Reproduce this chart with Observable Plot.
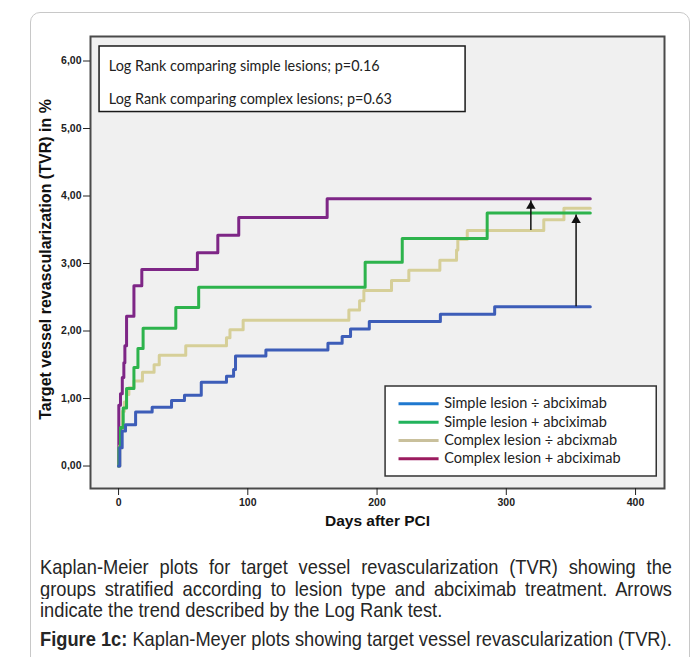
<!DOCTYPE html>
<html><head><meta charset="utf-8">
<script src="https://cdn.jsdelivr.net/npm/d3@7"></script>
<script src="https://cdn.jsdelivr.net/npm/@observablehq/plot@0.6"></script>
<style>
html,body{margin:0;padding:0;background:#fff;width:697px;height:657px;overflow:hidden;position:relative}
#border{position:absolute;left:30px;top:12px;width:660px;height:720px;border:1px solid #c8c8c8;border-radius:10px;box-sizing:border-box}
#chart{position:absolute;left:0;top:0}
#chart svg g[aria-label="x-axis tick label"] text, #chart svg g[aria-label="y-axis tick label"] text{font-weight:bold}
#caption{position:absolute;left:40px;top:556px;font-family:"Liberation Sans",Arial,sans-serif;color:#262626;transform-origin:0 0}
.ln{height:21.7px;line-height:21.7px;white-space:nowrap}
.j{text-align:justify;text-align-last:justify;white-space:normal;overflow:hidden}
#fig{margin-top:7px}
</style></head><body>
<div id="border"></div>
<div id="chart"></div>
<div id="caption">
  <div class="ln j" id="l1">Kaplan-Meier plots for target vessel revascularization (TVR) showing the</div>
  <div class="ln j" id="l2">groups stratified according to lesion type and abciximab treatment. Arrows</div>
  <div class="ln" id="l3">indicate the trend described by the Log Rank test.</div>
  <div class="ln" id="fig"><b id="figb">Figure 1c:</b><span id="figt"> Kaplan-Meyer plots showing target vessel revascularization (TVR).</span></div>
</div>
<script>
// ---- data ----
const groups = ["Simple lesion ÷ abciximab", "Simple lesion + abciximab", "Complex lesion ÷ abcixmab", "Complex lesion + abciximab"];
const lineColors = ["#3d5db8", "#2db34c", "#d6cf98", "#7e2686"];
const legendColors = ["#1f78cf", "#22b35c", "#c9c09c", "#9b1b5f"];

const simpleNoDays = [0, 1, 2.8, 5.4, 13.2, 26, 41, 51, 64, 83.5, 89, 90.5, 114, 162, 173, 179.5, 194, 249, 291, 365];
const simpleNoTVR  = [0, 0.27, 0.52, 0.61, 0.8, 0.87, 0.97, 1.05, 1.24, 1.33, 1.43, 1.63, 1.72, 1.82, 1.92, 2.03, 2.14, 2.25, 2.36, 2.36];

const simpleAbxDays = [0, 0.3, 1.5, 3.6, 6.2, 11.9, 15, 19, 44.3, 62, 190.8, 219.5, 285.2, 365];
const simpleAbxTVR  = [0, 0.27, 0.57, 0.86, 1.15, 1.46, 1.74, 2.04, 2.35, 2.65, 3.02, 3.37, 3.75, 3.75];

const complexNoDays = [0, 1, 2, 3, 4.5, 6.2, 8, 11.9, 18.5, 27.5, 31.5, 52, 83.5, 86.2, 96.4, 178.2, 186.5, 189.8, 211.2, 224.6, 248.6, 261.5, 262.5, 269.8, 329, 344.6, 365];
const complexNoTVR  = [0, 0.3, 0.52, 0.81, 0.95, 1.06, 1.16, 1.26, 1.39, 1.5, 1.64, 1.78, 1.9, 2.02, 2.16, 2.31, 2.45, 2.6, 2.75, 2.9, 3.05, 3.2, 3.36, 3.49, 3.65, 3.82, 3.82];

const complexAbxDays = [0, 0.2, 1.5, 2.9, 4.1, 4.9, 6.2, 11.9, 18, 61, 76.8, 93, 161.4, 365];
const complexAbxTVR  = [0, 0.9, 1.07, 1.31, 1.53, 1.78, 2.22, 2.67, 2.91, 3.16, 3.42, 3.68, 3.96, 3.96];

const arrowDays = [319, 354];
const arrowFrom = [3.49, 2.36];
const arrowTo   = [3.93, 3.72];

const xTicks = [0, 100, 200, 300, 400];
const yTicks = [0, 1, 2, 3, 4, 5, 6];
const boxLines = ["Log Rank comparing simple lesions; p=0.16", "Log Rank comparing complex lesions; p=0.63"];

// ---- build ----
const seriesDays = [simpleNoDays, simpleAbxDays, complexNoDays, complexAbxDays];
const seriesTVR = [simpleNoTVR, simpleAbxTVR, complexNoTVR, complexAbxTVR];
const series = groups.map((g, i) => seriesDays[i].map((d, j) => ({group: g, day: d, tvr: seriesTVR[i][j]})));
const arrows = arrowDays.map((d, i) => ({day: d, from: arrowFrom[i], to: arrowTo[i]}));

// annotation placement (data units)
const box = {x1: -14.7, x2: 268.5, y1: 5.244, y2: 6.215, tx: -7.5, ty: [5.92, 5.43]};
const leg = {x1: 206.6, x2: 416.4, y1: -0.155, y2: 1.178, sx1: 217, sx2: 248, tx: 251.9, ty: [0.921, 0.649, 0.378, 0.107]};

const font = "Lato, 'Open Sans', sans-serif";
const sansB = "'Liberation Sans', Arial, sans-serif";
const drawOrder = [3, 2, 1, 0];

const marks = [
  Plot.frame({fill: "#f0f0f0"}),
  ...drawOrder.map(i => Plot.line(series[i], {x: "day", y: "tvr", curve: "step-after", stroke: lineColors[i], strokeWidth: 3})),
  Plot.ruleX(arrows, {x: "day", y1: "from", y2: "to", stroke: "#111", strokeWidth: 1.5}),
  Plot.dot(arrows, {x: "day", y: "to", symbol: "triangle", r: 3.5, fill: "#111", stroke: null, dy: 5.4}),
  Plot.frame({stroke: "#4a4a4a", strokeWidth: 2}),
  Plot.rect([0], {x1: box.x1, x2: box.x2, y1: box.y1, y2: box.y2, fill: "white", stroke: "#1a1a1a", strokeWidth: 1.5}),
  Plot.text(boxLines, {x: box.tx, y: (d, i) => box.ty[i], text: d => d, textAnchor: "start", fontFamily: font, fontSize: 14.4, fill: "#222"}),
  Plot.rect([0], {x1: leg.x1, x2: leg.x2, y1: leg.y1, y2: leg.y2, fill: "white", stroke: "#333", strokeWidth: 1.5}),
  ...groups.map((g, i) => Plot.ruleY([leg.ty[i]], {x1: leg.sx1, x2: leg.sx2, stroke: legendColors[i], strokeWidth: 3})),
  Plot.text(groups, {x: leg.tx, y: (d, i) => leg.ty[i], text: d => d, textAnchor: "start", fontFamily: font, fontSize: 14.5, fill: "#222"}),
  Plot.axisX({ticks: xTicks, tickSize: 7, tickPadding: 3, fontSize: 10.5, fontWeight: "bold", label: null, fontFamily: sansB}),
  Plot.axisY({ticks: yTicks, tickFormat: d => d.toFixed(2).replace(".", ","), tickSize: 7, tickPadding: 2, fontSize: 10.5, fontWeight: "bold", label: null, fontFamily: sansB}),
  Plot.text(["Target vessel revascularization (TVR) in %"], {frameAnchor: "left", dx: -45, dy: -3, rotate: -90, textAnchor: "middle", fontSize: 16, fontWeight: "bold", fontFamily: sansB, fill: "#111"}),
  Plot.text(["Days after PCI"], {frameAnchor: "bottom", dy: 37, fontSize: 15.5, fontWeight: "bold", fontFamily: sansB, fill: "#111"})
];

const chart = Plot.plot({
  width: 697, height: 545,
  marginLeft: 90, marginRight: 33, marginTop: 36, marginBottom: 57,
  x: {domain: [-21.7, 422.4]},
  y: {domain: [-0.333, 6.363]},
  style: {background: "none", overflow: "visible", color: "#222"},
  marks
});
document.getElementById("chart").appendChild(chart);

// caption sizing: condensed sans, figure line spans 632px
const squeeze = 0.88, target = 632;
const cv = document.createElement("canvas").getContext("2d");
cv.font = "bold 18px 'Liberation Sans'";
let w = cv.measureText(document.getElementById("figb").textContent).width;
cv.font = "18px 'Liberation Sans'";
w += cv.measureText(document.getElementById("figt").textContent).width;
const fs = 18 * (target / squeeze) / w;
const cap = document.getElementById("caption");
cap.style.fontSize = fs + "px";
cap.style.width = (target / squeeze) + "px";
cap.style.transform = `scaleX(${squeeze})`;
</script>
</body></html>
